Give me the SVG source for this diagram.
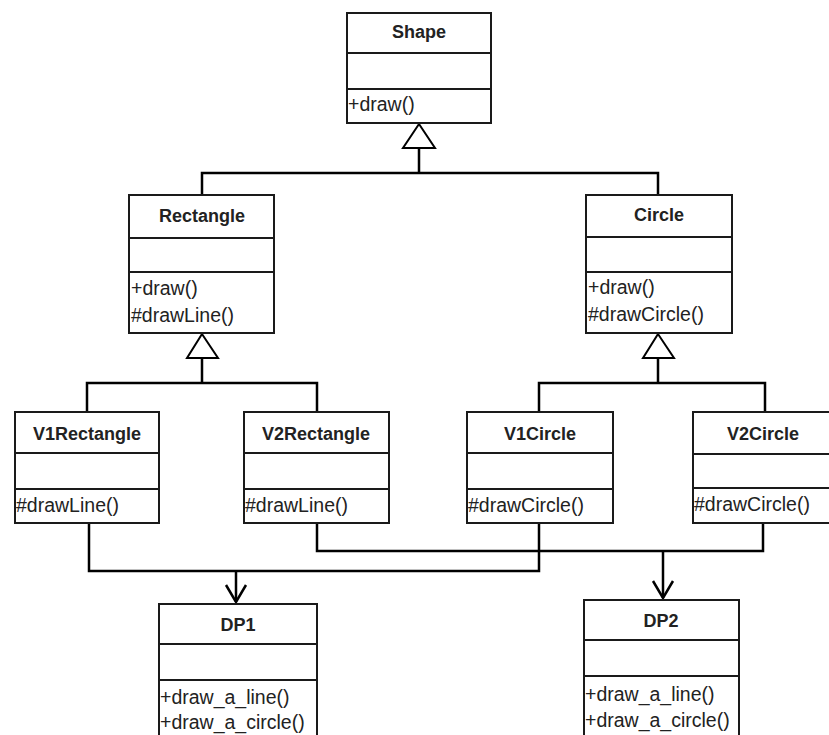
<svg xmlns="http://www.w3.org/2000/svg" width="829" height="735" viewBox="0 0 829 735">
  <style>
    .box { fill: #ffffff; stroke: #1a1a1a; stroke-width: 2; }
    .div { stroke: #1a1a1a; stroke-width: 2; }
    .title { font-family: "Liberation Sans", Arial, sans-serif; font-weight: bold; font-size: 18px; fill: #222222; text-anchor: middle; }
    .member { font-family: "Liberation Sans", Arial, sans-serif; font-size: 19.5px; fill: #222222; }
    .wire { fill: none; stroke: #000000; stroke-width: 2.5; stroke-linejoin: miter; }
    .gen { fill: #ffffff; stroke: #000000; stroke-width: 2; }
  </style>
  <defs>
    <!-- open arrowhead for dependency links -->
    <marker id="openArrow" viewBox="0 0 20 24" refX="18" refY="12" markerWidth="20" markerHeight="24" markerUnits="userSpaceOnUse" orient="auto">
      <polyline points="1,2 18,12 1,22" fill="none" stroke="#000000" stroke-width="2.5"/>
    </marker>
  </defs>

  <rect width="829" height="735" fill="#ffffff"/>

  <!-- connectors -->
  <g id="connectors">
    <!-- Shape generalization -->
    <path class="wire" d="M419,148 V173 M202,195 V173 H658 V195"/>
    <polygon class="gen" points="419,124 403,148 435,148"/>
    <!-- Rectangle generalization -->
    <path class="wire" d="M202,358 V383 M87,412 V383 H317 V412"/>
    <polygon class="gen" points="202,334 187,358 218,358"/>
    <!-- Circle generalization -->
    <path class="wire" d="M658,358 V383 M539,412 V383 H765 V412"/>
    <polygon class="gen" points="658,334 643,358 674,358"/>
    <!-- dependencies on DP1 -->
    <path class="wire" d="M89,523 V571 H539 V523"/>
    <path class="wire" d="M236,571 V602" marker-end="url(#openArrow)"/>
    <!-- dependencies on DP2 -->
    <path class="wire" d="M317,523 V551 H763 V523"/>
    <path class="wire" d="M663,551 V598" marker-end="url(#openArrow)"/>
  </g>

  <g id="Shape">
    <rect class="box" x="347" y="13" width="144" height="110"/>
    <line class="div" x1="347" y1="53" x2="491" y2="53"/>
    <line class="div" x1="347" y1="89" x2="491" y2="89"/>
    <text class="title" x="419" y="38">Shape</text>
    <text class="member" x="348" y="111">+draw()</text>
  </g>

  <g id="Rectangle">
    <rect class="box" x="129" y="195" width="145" height="138"/>
    <line class="div" x1="129" y1="238" x2="274" y2="238"/>
    <line class="div" x1="129" y1="272" x2="274" y2="272"/>
    <text class="title" x="202" y="222">Rectangle</text>
    <text class="member" x="131" y="295">+draw()</text>
    <text class="member" x="131" y="322">#drawLine()</text>
  </g>

  <g id="Circle">
    <rect class="box" x="586" y="195" width="146" height="138"/>
    <line class="div" x1="586" y1="237" x2="732" y2="237"/>
    <line class="div" x1="586" y1="272" x2="732" y2="272"/>
    <text class="title" x="659" y="221">Circle</text>
    <text class="member" x="588" y="294">+draw()</text>
    <text class="member" x="588" y="321">#drawCircle()</text>
  </g>

  <g id="V1Rectangle">
    <rect class="box" x="15" y="412" width="144" height="111"/>
    <line class="div" x1="15" y1="453" x2="159" y2="453"/>
    <line class="div" x1="15" y1="489" x2="159" y2="489"/>
    <text class="title" x="87" y="440">V1Rectangle</text>
    <text class="member" x="16" y="512">#drawLine()</text>
  </g>

  <g id="V2Rectangle">
    <rect class="box" x="244" y="412" width="145" height="111"/>
    <line class="div" x1="244" y1="453" x2="389" y2="453"/>
    <line class="div" x1="244" y1="489" x2="389" y2="489"/>
    <text class="title" x="316" y="440">V2Rectangle</text>
    <text class="member" x="245" y="512">#drawLine()</text>
  </g>

  <g id="V1Circle">
    <rect class="box" x="467" y="412" width="146" height="111"/>
    <line class="div" x1="467" y1="453" x2="613" y2="453"/>
    <line class="div" x1="467" y1="489" x2="613" y2="489"/>
    <text class="title" x="540" y="440">V1Circle</text>
    <text class="member" x="468" y="512">#drawCircle()</text>
  </g>

  <g id="V2Circle">
    <rect class="box" x="693" y="412" width="145" height="111"/>
    <line class="div" x1="693" y1="454" x2="838" y2="454"/>
    <line class="div" x1="693" y1="488" x2="838" y2="488"/>
    <text class="title" x="763" y="440">V2Circle</text>
    <text class="member" x="694" y="511">#drawCircle()</text>
  </g>

  <g id="DP1">
    <rect class="box" x="159" y="604" width="158" height="150"/>
    <line class="div" x1="159" y1="644" x2="317" y2="644"/>
    <line class="div" x1="159" y1="680" x2="317" y2="680"/>
    <text class="title" x="238" y="631">DP1</text>
    <text class="member" x="160" y="704">+draw_a_line()</text>
    <text class="member" x="160" y="729">+draw_a_circle()</text>
  </g>

  <g id="DP2">
    <rect class="box" x="584" y="600" width="155" height="150"/>
    <line class="div" x1="584" y1="640" x2="739" y2="640"/>
    <line class="div" x1="584" y1="676" x2="739" y2="676"/>
    <text class="title" x="661" y="627">DP2</text>
    <text class="member" x="585" y="701">+draw_a_line()</text>
    <text class="member" x="585" y="727">+draw_a_circle()</text>
  </g>
</svg>
